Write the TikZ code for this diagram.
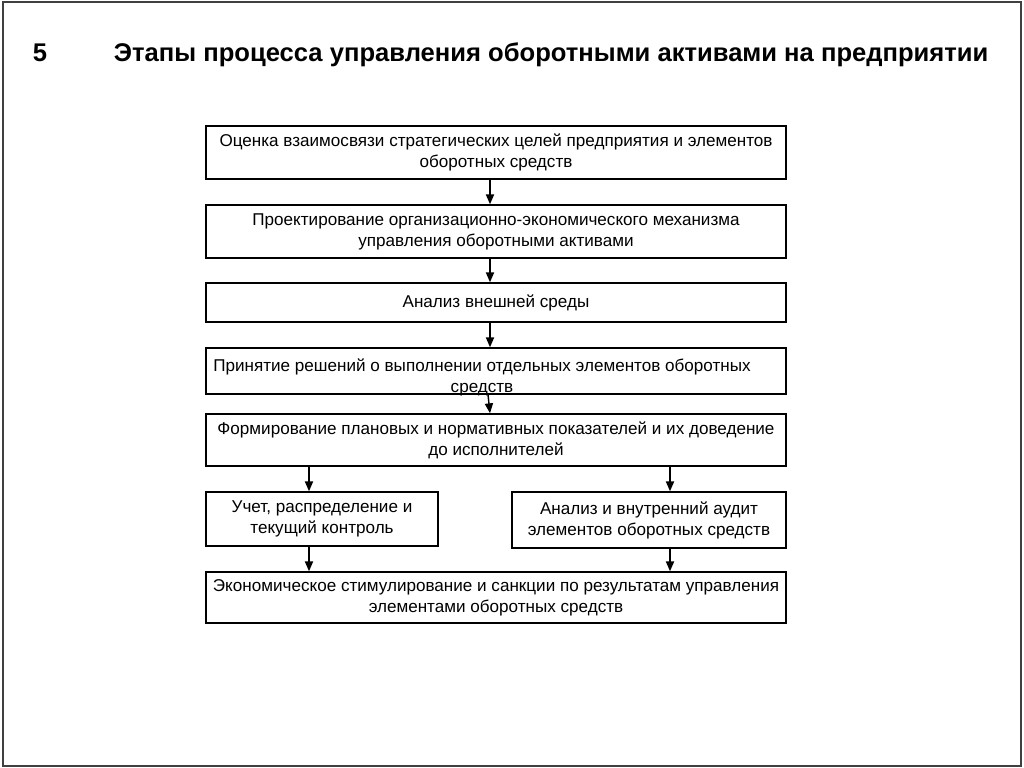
\documentclass[tikz,border=0pt]{standalone}
\usepackage{fontspec}
\setmainfont{Liberation Sans}
\usepackage{tikz}
\usetikzlibrary{calc}
\usetikzlibrary{arrows.meta}

\begin{document}
\begin{tikzpicture} [x=0.025cm, y=-0.025cm,
  stage/.style={draw, line width=1.1pt, align=center, inner sep=0pt,
    font=\fontsize{12.15pt}{14.9pt}\selectfont},
  stagetext/.style={align=center, inner sep=0pt,
    font=\fontsize{12.15pt}{14.9pt}\selectfont},
  arr/.style={-{Triangle[length=7pt,width=5.8pt]}, line width=1pt}]
\useasboundingbox (0,0) rectangle (1024,768);
\draw[black!75, line width=1.2pt]
(3,2) rectangle (1021,766);

\node[font=\fontsize{18.2pt}{22pt}\selectfont\bfseries, anchor=base west] (num) at (28,62) {5};
\node[font=\fontsize{18.2pt}{22pt}\selectfont\bfseries, anchor=base west] (title) at (109,62) {Этапы процесса управления оборотными активами на предприятии};

\node[stage, minimum width=14.5cm, minimum height=1.325cm] (b1) at (496,152.5) {Оценка взаимосвязи стратегических целей предприятия и элементов\\оборотных средств};
\node[stage, minimum width=14.5cm, minimum height=1.325cm] (b2) at (496,231.5) {Проектирование организационно-экономического механизма\\управления оборотными активами};
\node[stage, minimum width=14.5cm, minimum height=0.975cm] (b3) at (496,302.5) {Анализ внешней среды};
\node[stage, minimum width=14.5cm, minimum height=1.15cm] (b4) at (496,371) {};
\node[stagetext] (b4text) at (482,377) {Принятие решений о выполнении отдельных элементов оборотных\\средств};
\node[stage, minimum width=14.5cm, minimum height=1.3cm] (b5) at (496,440) {Формирование плановых и нормативных показателей и их доведение\\до исполнителей};
\node[stage, minimum width=5.8cm, minimum height=1.35cm] (b6) at (322,519) {Учет, распределение и\\текущий контроль};
\node[stage, minimum width=6.85cm, minimum height=1.4cm] (b7) at (649,520) {Анализ и внутренний аудит\\элементов оборотных средств};
\node[stage, minimum width=14.5cm, minimum height=1.275cm] (b8) at (496,597.5) {Экономическое стимулирование и санкции по результатам управления\\элементами оборотных средств};

\coordinate (ax) at (490,0);
\coordinate (lx) at (309,0);
\coordinate (rx) at (670,0);

\draw[arr] (b1.south -| ax) -- (b2.north -| ax);
\draw[arr] (b2.south -| ax) -- (b3.north -| ax);
\draw[arr] (b3.south -| ax) -- (b4.north -| ax);
\draw[arr] ($(b4.south -| ax)+(-2,0)$) -- (b5.north -| ax);
\draw[arr] (b5.south -| lx) -- (b6.north -| lx);
\draw[arr] (b5.south -| rx) -- (b7.north -| rx);
\draw[arr] (b6.south -| lx) -- (b8.north -| lx);
\draw[arr] (b7.south -| rx) -- (b8.north -| rx);

\end{tikzpicture}
\end{document}
